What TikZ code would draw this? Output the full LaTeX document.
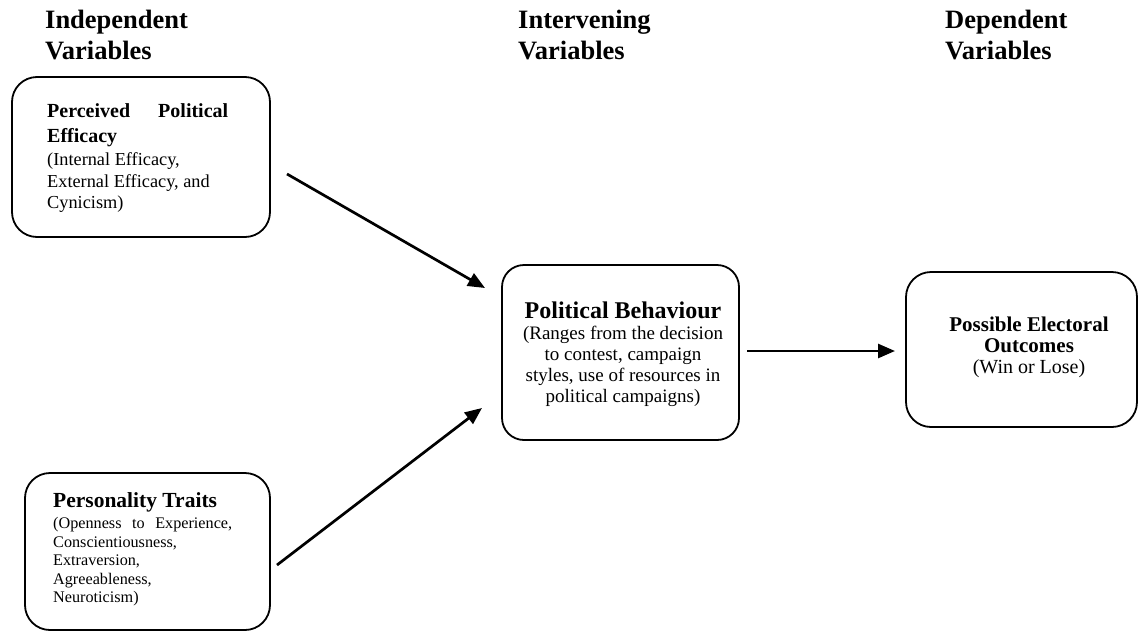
\documentclass[tikz,border=0pt]{standalone}
\usepackage{fontspec}
\setmainfont{Liberation Serif}
\usetikzlibrary{arrows.meta}
\begin{document}
\begin{tikzpicture}[x=1pt,y=-1pt,
  box/.style={draw, line width=1.8pt, rounded corners=25pt, inner sep=0pt, minimum width=#1},
  hdr/.style={anchor=base west, inner sep=0pt, font=\fontsize{26.5}{30}\selectfont\bfseries},
  txt/.style={anchor=base west, inner sep=0pt},
  ctxt/.style={anchor=base, inner sep=0pt},
  arr/.style={line width=2.7pt, -{Triangle[length=17pt,width=14pt]}}
]
\useasboundingbox (0,0) rectangle (1139,632);

% headers
\node[hdr] (h1a) at (45,28) {Independent};
\node[hdr] (h1b) at (45,59) {Variables};
\node[hdr] (h2a) at (518,28) {Intervening};
\node[hdr] (h2b) at (518,59) {Variables};
\node[hdr] (h3a) at (945,28) {Dependent};
\node[hdr] (h3b) at (945,59) {Variables};

% boxes
\node[box=258pt, minimum height=160pt] (b1) at (141,157) {};
\node[box=237pt, minimum height=175pt, rounded corners=22pt] (b2) at (620.5,352.5) {};
\node[box=231pt, minimum height=155pt] (b3) at (1021.5,349.5) {};
\node[box=245pt, minimum height=157pt] (b4) at (147.5,551.5) {};

% box 1 text
\node[txt, font=\fontsize{20}{24}\selectfont\bfseries] (t1a) at (47,117) {\makebox[181pt][s]{Perceived Political}};
\node[txt, font=\fontsize{20}{24}\selectfont\bfseries] (t1b) at (47,142) {Efficacy};
\node[txt, font=\fontsize{18.3}{22}\selectfont] (t1c) at (47,165) {(Internal Efficacy,};
\node[txt, font=\fontsize{18.3}{22}\selectfont] (t1d) at (47,187) {External Efficacy, and};
\node[txt, font=\fontsize{18.3}{22}\selectfont] (t1e) at (47,208) {Cynicism)};

% box 2 text
\node[ctxt, font=\fontsize{24}{28}\selectfont\bfseries] (t2a) at (623,318) {Political Behaviour};
\node[ctxt, font=\fontsize{19}{22}\selectfont] (t2b) at (623,339) {(Ranges from the decision};
\node[ctxt, font=\fontsize{19}{22}\selectfont] (t2c) at (623,360) {to contest, campaign};
\node[ctxt, font=\fontsize{19}{22}\selectfont] (t2d) at (623,381) {styles, use of resources in};
\node[ctxt, font=\fontsize{19}{22}\selectfont] (t2e) at (623,402) {political campaigns)};

% box 3 text
\node[ctxt, font=\fontsize{21}{24}\selectfont\bfseries] (t3a) at (1029,331) {Possible Electoral};
\node[ctxt, font=\fontsize{21}{24}\selectfont\bfseries] (t3b) at (1029,352) {Outcomes};
\node[ctxt, font=\fontsize{20}{23}\selectfont] (t3c) at (1029,373) {(Win or Lose)};

% box 4 text
\node[txt, font=\fontsize{21.5}{25}\selectfont\bfseries] (t4a) at (53,507) {Personality Traits};
\node[txt, font=\fontsize{16.2}{19}\selectfont] (t4b) at (53,528) {\makebox[179pt][s]{(Openness to Experience,}};
\node[txt, font=\fontsize{16.2}{19}\selectfont] (t4c) at (53,547) {Conscientiousness,};
\node[txt, font=\fontsize{16.2}{19}\selectfont] (t4d) at (53,565) {Extraversion,};
\node[txt, font=\fontsize{16.2}{19}\selectfont] (t4e) at (53,584) {Agreeableness,};
\node[txt, font=\fontsize{16.2}{19}\selectfont] (t4f) at (53,602) {Neuroticism)};

% arrows
\coordinate (a1s) at (287,174);
\coordinate (a1e) at (485,288);
\coordinate (a2s) at (277,565);
\coordinate (a2e) at (482,408);
\coordinate (a3s) at (747,351);
\coordinate (a3e) at (895,351);
\draw[arr] (a1s) -- (a1e);
\draw[arr] (a2s) -- (a2e);
\draw[arr] (a3s) -- (a3e);
\end{tikzpicture}
\end{document}
